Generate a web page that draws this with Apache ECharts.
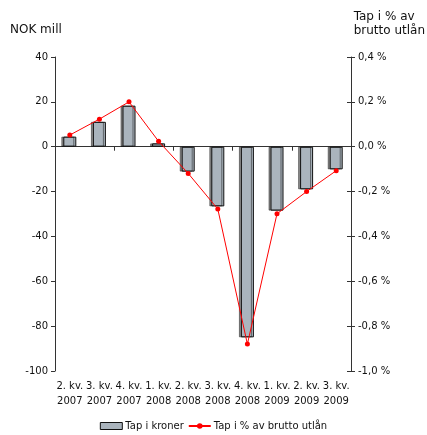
<!DOCTYPE html>
<html>
<head>
<meta charset="utf-8">
<script src="https://cdn.jsdelivr.net/npm/echarts@6/dist/echarts.min.js"></script>
<style>
  html, body { margin: 0; padding: 0; background: #fff; }
  #chart { width: 427px; height: 435px; }
</style>
</head>
<body>
<div id="chart"></div>
<script>
// Quarterly loan losses: amount (NOK mill) and share of gross lending (%)
const quarters = ['2. kv.\n2007', '3. kv.\n2007', '4. kv.\n2007', '1. kv.\n2008', '2. kv.\n2008',
                  '3. kv.\n2008', '4. kv.\n2008', '1. kv.\n2009', '2. kv.\n2009', '3. kv.\n2009'];
const lossNok = [4.5, 11.1, 18.3, 1.5, -11.1, -26.6, -85.0, -28.5, -19.0, -10.1];
const lossPct = [0.052, 0.123, 0.200, 0.024, -0.119, -0.278, -0.880, -0.299, -0.200, -0.107];

const leftTicks = { min: -100, max: 40, interval: 20 };
const rightTicks = { min: -1.0, max: 0.4, interval: 0.2 };

const FONT = 'DejaVu Sans';
const TXT = '#111';

const chart = echarts.init(document.getElementById('chart'));
chart.setOption({
  animation: false,
  textStyle: { fontFamily: FONT, color: TXT },
  grid: { left: 55, right: 76, top: 57, bottom: 64 },
  graphic: [
    { type: 'text', left: 10, top: 24, style: { text: 'NOK mill', font: '12px ' + FONT, fill: TXT } },
    { type: 'text', right: 2, top: 10, style: { text: 'Tap i % av\nbrutto utlån', font: '12px ' + FONT, fill: TXT, align: 'right', lineHeight: 14 } }
  ],
  legend: {
    bottom: -1,
    left: 'center',
    itemGap: 4,
    itemWidth: 22,
    itemHeight: 7,
    textStyle: { fontFamily: FONT, fontSize: 10, color: TXT, padding: [0, 0, 0, -2] },
    data: [
      { name: 'Tap i kroner', icon: 'rect', itemStyle: { shadowOffsetX: 0, borderWidth: 1, borderColor: '#111' } },
      { name: 'Tap i % av brutto utlån' }
    ]
  },
  xAxis: [
    {
      type: 'category',
      data: quarters,
      position: 'bottom',
      axisLine: { show: false, onZero: false },
      axisTick: { show: false },
      axisLabel: { fontSize: 10, color: TXT, lineHeight: 15, margin: 8, interval: 0 }
    },
    {
      type: 'category',
      data: quarters,
      position: 'bottom',
      axisLine: { show: true, onZero: true, onZeroAxisIndex: 0, lineStyle: { color: '#333', width: 1 } },
      axisTick: { show: true, alignWithLabel: false, length: 4, lineStyle: { color: '#333' } },
      axisLabel: { show: false }
    }
  ],
  yAxis: [
    {
      type: 'value',
      position: 'left',
      min: leftTicks.min, max: leftTicks.max, interval: leftTicks.interval,
      axisLine: { show: true, lineStyle: { color: '#333', width: 1 } },
      axisTick: { show: true, length: 4, lineStyle: { color: '#333' } },
      axisLabel: { fontSize: 10, color: TXT, margin: 7 },
      splitLine: { show: false }
    },
    {
      type: 'value',
      position: 'right',
      min: rightTicks.min, max: rightTicks.max, interval: rightTicks.interval,
      axisLine: { show: true, lineStyle: { color: '#333', width: 1 } },
      axisTick: { show: true, length: 4, lineStyle: { color: '#333' } },
      axisLabel: {
        fontSize: 10, color: TXT, margin: 7,
        formatter: v => v.toFixed(1).replace('.', ',').replace('-0,0', '0,0') + ' %'
      },
      splitLine: { show: false }
    },
    {
      type: 'value',
      position: 'right',
      min: rightTicks.min, max: rightTicks.max, interval: rightTicks.interval,
      axisLine: { show: false },
      axisTick: { show: true, inside: true, length: 4, lineStyle: { color: '#333' } },
      axisLabel: { show: false },
      splitLine: { show: false }
    }
  ],
  series: [
    {
      name: 'Tap i kroner',
      type: 'bar',
      xAxisIndex: 0,
      yAxisIndex: 0,
      data: lossNok,
      barWidth: 13,
      itemStyle: {
        color: '#aab4bd',
        borderColor: '#111',
        borderWidth: 1,
        shadowColor: 'rgba(0,0,0,0.45)',
        shadowOffsetX: -2,
        shadowOffsetY: 0,
        shadowBlur: 0
      }
    },
    {
      name: 'Tap i % av brutto utlån',
      type: 'line',
      xAxisIndex: 0,
      yAxisIndex: 1,
      data: lossPct,
      symbol: 'circle',
      symbolSize: 5,
      lineStyle: { color: '#ff0000', width: 1 },
      itemStyle: { color: '#ff0000' }
    }
  ]
});
</script>
</body>
</html>
